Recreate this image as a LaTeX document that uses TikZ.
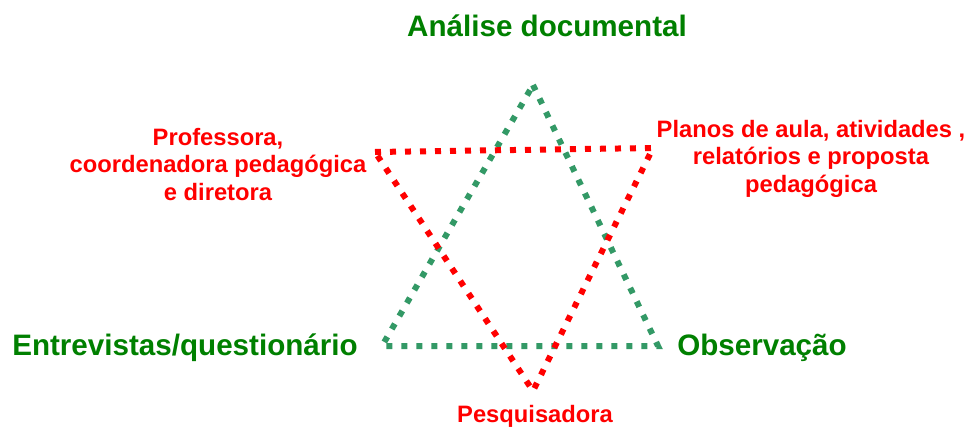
\documentclass[tikz,border=0pt]{standalone}
\usepackage{fontspec}
\setmainfont{Liberation Sans}
\definecolor{txtgreen}{RGB}{0,128,0}
\definecolor{linegreen}{RGB}{51,153,102}
\definecolor{myred}{RGB}{255,0,0}
\begin{document}
\begin{tikzpicture}[x=0.75pt,y=-0.75pt,
  dotline/.style={line width=4.5pt, dash pattern=on 4.5pt off 6.75pt, line join=miter},
  bigtxt/.style={inner sep=0pt, anchor=base, text=txtgreen, font=\fontsize{22.2}{25.5}\selectfont\bfseries},
  smalltxt/.style={inner sep=0pt, anchor=base, text=myred, align=center, font=\fontsize{17.8}{20.6}\selectfont\bfseries}]
\useasboundingbox (0,0) rectangle (967,428);
% green triangle
\coordinate (gA) at (533,85);
\coordinate (gL) at (382,346);
\coordinate (gR) at (658,346);
% red triangle
\coordinate (rL) at (375,152);
\coordinate (rR) at (653,148);
\coordinate (rB) at (533,391);
\draw[dotline, draw=linegreen] (gA) -- (gR) -- (gL) -- cycle;
\draw[dotline, draw=myred] (rL) -- (rR) -- (rB) -- cycle;
% labels
\node[bigtxt] (tA) at (547,37) {Análise documental};
\node[bigtxt] (tL) at (185,355) {Entrevistas/questionário};
\node[bigtxt] (tR) at (762,355) {Observação};
\node[smalltxt] (sL) at (218,200) {Professora,\\coordenadora pedagógica\\e diretora};
\node[smalltxt] (sR) at (811,192) {Planos de aula, atividades ,\\relatórios e proposta\\pedagógica};
\node[smalltxt] (sB) at (535,422) {Pesquisadora};
\end{tikzpicture}
\end{document}
